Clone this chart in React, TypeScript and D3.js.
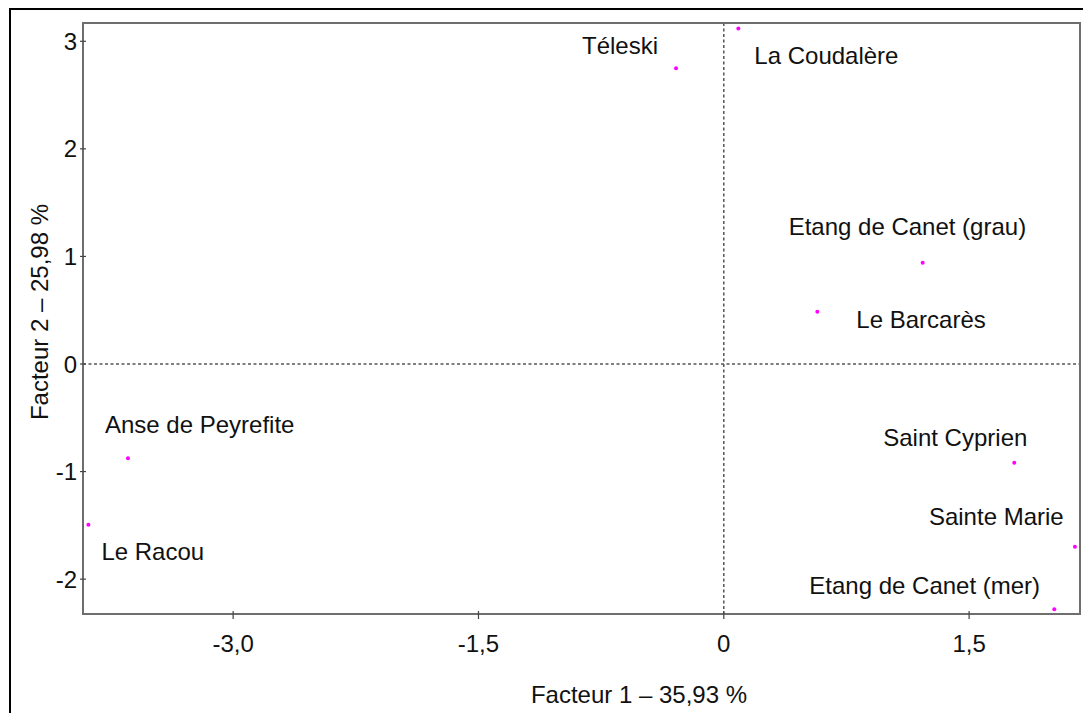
import React from "react";
import * as d3 from "d3";

const sites = [
  "Téleski",
  "La Coudalère",
  "Etang de Canet (grau)",
  "Le Barcarès",
  "Anse de Peyrefite",
  "Le Racou",
  "Saint Cyprien",
  "Sainte Marie",
  "Etang de Canet (mer)",
];
const factor1 = [-0.292, 0.089, 1.216, 0.572, -3.643, -3.885, 1.776, 2.147, 2.021];
const factor2 = [2.749, 3.118, 0.942, 0.486, -0.877, -1.494, -0.918, -1.699, -2.281];

const xTicks = [-3.0, -1.5, 0, 1.5];
const xTickLabels = ["-3,0", "-1,5", "0", "1,5"];
const yTicks = [-2, -1, 0, 1, 2, 3];
const yTickLabels = ["-2", "-1", "0", "1", "2", "3"];

const xTitle = "Facteur 1 – 35,93 %";
const yTitle = "Facteur 2 – 25,98 %";

// label placement (layout): offset of label's left/baseline from the point
const labelOffsets: [number, number][] = [
  [-94, -14],
  [16, 35],
  [-134, -28],
  [39, 16],
  [-23, -25],
  [13, 35],
  [-131, -17],
  [-146, -22],
  [-245, -15],
];

const W = 1083;
const H = 713;
const plot = { left: 83, right: 1080, top: 23, bottom: 614 };
const FONT = "'Liberation Sans', Arial, Helvetica, sans-serif";
const FS = 24;
const axisColor = "#6e6e6e";

export default function App() {
  const x = d3.scaleLinear().domain([-3.918, 2.178]).range([plot.left, plot.right]);
  const y = d3.scaleLinear().domain([-2.324, 3.17]).range([plot.bottom, plot.top]);

  return (
    <svg
      width={W}
      height={H}
      style={{ position: "absolute", left: 0, top: 0, background: "#fff" }}
      fontFamily={FONT}
    >
      <rect x={0} y={0} width={W} height={H} fill="#fff" />
      {/* outer frame */}
      <rect x={10} y={9} width={1100} height={740} fill="none" stroke="#000" strokeWidth={2} />

      {/* zero lines */}
      <line
        x1={x(0)}
        x2={x(0)}
        y1={plot.top}
        y2={plot.bottom}
        stroke="#555"
        strokeWidth={1.5}
        strokeDasharray="3,2.5"
      />
      <line
        x1={plot.left}
        x2={plot.right}
        y1={y(0)}
        y2={y(0)}
        stroke="#555"
        strokeWidth={1.5}
        strokeDasharray="3,2.5"
      />

      {/* plot frame */}
      <rect
        x={plot.left}
        y={plot.top}
        width={plot.right - plot.left}
        height={plot.bottom - plot.top}
        fill="none"
        stroke={axisColor}
        strokeWidth={2}
      />

      {/* x ticks */}
      {xTicks.map((t, i) => (
        <g key={"xt" + i}>
          <line x1={x(t)} x2={x(t)} y1={plot.bottom - 3} y2={plot.bottom + 5} stroke="#444" strokeWidth={1.2} />
          <text x={x(t)} y={652} textAnchor="middle" fontSize={FS} fill="#111">
            {xTickLabels[i]}
          </text>
        </g>
      ))}

      {/* y ticks */}
      {yTicks.map((t, i) => (
        <g key={"yt" + i}>
          <line x1={plot.left - 3} x2={plot.left + 3} y1={y(t)} y2={y(t)} stroke="#444" strokeWidth={1.2} />
          <text x={77} y={y(t) + 8.5} textAnchor="end" fontSize={FS} fill="#111">
            {yTickLabels[i]}
          </text>
        </g>
      ))}

      {/* axis titles */}
      <text x={639} y={703} textAnchor="middle" fontSize={FS} fill="#111">
        {xTitle}
      </text>
      <text
        transform={`translate(48,${312}) rotate(-90)`}
        textAnchor="middle"
        fontSize={FS}
        fill="#111"
      >
        {yTitle}
      </text>

      {/* points and labels */}
      {sites.map((s, i) => {
        const px = x(factor1[i]);
        const py = y(factor2[i]);
        const [dx, dy] = labelOffsets[i];
        return (
          <g key={s}>
            <text x={px + dx} y={py + dy} fontSize={FS} fill="#111">
              {s}
            </text>
            <circle cx={px} cy={py} r={2} fill="#ff00ff" />
          </g>
        );
      })}
    </svg>
  );
}
